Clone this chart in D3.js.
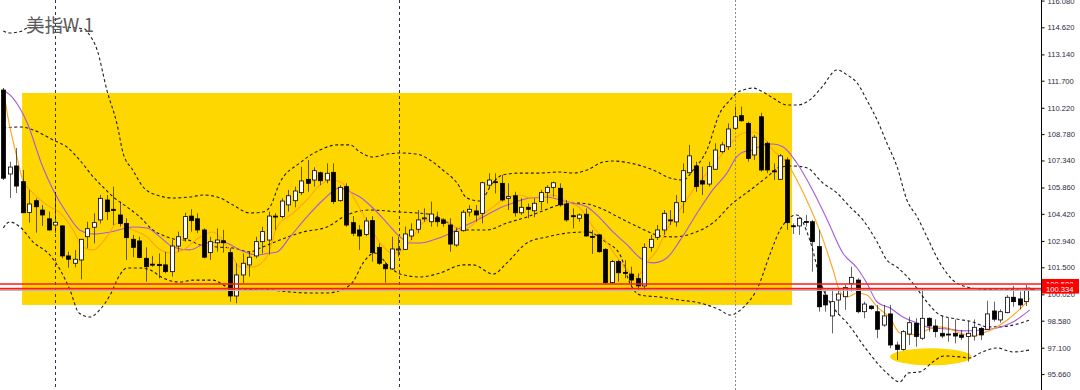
<!DOCTYPE html>
<html>
<head>
<meta charset="utf-8">
<script src="https://cdn.jsdelivr.net/npm/d3@7"></script>
<style>
  body { margin: 0; background: #fff; }
  svg { display: block; }
</style>
</head>
<body>
<div id="chart"></div>
<script>
// weekly candles [open, high, low, close]
const candles = [
  [111.19,111.30,106.27,106.37],[106.60,107.27,105.29,106.98],[107.04,108.02,105.56,105.94],[106.18,106.82,104.47,104.48],
  [104.50,105.73,103.94,104.96],[105.14,105.27,103.39,104.81],[104.63,104.90,103.76,104.36],[104.15,104.54,103.50,103.54],
  [103.81,105.62,103.37,103.96],[103.76,103.81,101.99,102.12],[102.12,102.35,101.48,101.94],[101.72,102.44,101.50,101.94],
  [101.90,103.05,100.84,103.03],[103.17,103.99,102.54,103.61],[103.69,104.45,102.81,103.94],[104.09,105.45,103.90,105.27],
  [105.18,105.45,104.09,104.54],[104.67,105.91,103.81,104.60],[104.36,105.09,103.72,103.90],[103.90,104.18,101.90,103.12],
  [103.03,103.27,102.05,102.59],[102.94,103.17,101.99,102.03],[101.99,102.59,100.71,101.53],[101.67,102.12,101.53,101.65],
  [101.66,102.26,100.90,101.59],[101.63,102.35,101.17,101.26],[101.26,102.99,100.99,102.66],[102.66,103.45,102.35,103.17],
  [103.08,104.48,102.90,104.27],[104.30,104.67,103.45,104.05],[104.15,104.45,103.36,103.54],[103.54,103.63,101.99,102.05],
  [102.30,103.17,101.90,102.90],[102.84,103.63,102.35,102.99],[102.95,103.54,102.30,102.84],[102.30,102.54,99.62,99.93],
  [99.93,101.72,99.53,101.08],[101.08,102.26,100.63,101.72],[101.63,102.35,100.99,102.05],[102.12,103.17,101.99,102.90],
  [102.90,103.72,102.26,103.45],[102.99,104.54,102.20,104.30],[104.30,104.45,103.54,104.27],[104.27,105.27,104.18,105.12],
  [104.91,105.73,104.54,105.41],[105.14,105.91,104.78,105.67],[105.58,107.00,105.45,106.22],[106.31,107.37,105.63,106.09],
  [106.27,106.97,105.91,106.78],[106.67,106.73,105.98,106.23],[106.27,107.18,106.09,106.64],[106.69,107.18,104.96,105.09],
  [105.14,105.99,105.09,105.87],[105.91,106.09,103.72,103.81],[103.94,104.30,103.20,103.36],[103.54,103.81,102.45,103.21],
  [103.30,104.23,103.20,104.03],[104.05,104.30,101.81,102.30],[102.59,102.81,101.63,101.72],[101.64,101.81,100.66,101.42],
  [101.41,103.17,101.35,102.50],[102.47,103.17,102.08,102.50],[102.48,103.72,102.45,103.32],[103.21,103.90,102.99,103.54],
  [103.58,104.63,103.36,104.09],[104.18,104.72,103.99,104.20],[103.99,105.09,103.72,104.41],[104.21,104.54,103.72,103.99],
  [104.09,104.18,103.72,103.90],[103.81,104.18,102.35,102.77],[102.72,103.63,102.62,103.45],[103.50,104.63,103.45,104.51],
  [104.52,104.90,104.27,104.67],[104.58,104.90,103.99,104.36],[104.45,106.18,103.90,106.12],[105.99,106.64,105.82,106.27],
  [106.18,106.64,105.54,106.15],[106.09,106.55,105.09,105.18],[105.27,106.09,104.63,105.36],[105.41,105.63,104.27,104.48],
  [104.48,105.27,104.36,104.78],[104.78,104.99,104.18,104.67],[104.59,105.27,104.23,105.00],[105.09,105.73,104.63,105.58],
  [105.58,105.99,104.99,105.87],[105.87,106.18,105.36,106.12],[105.82,106.09,104.81,104.91],[104.96,105.18,103.99,104.09],
  [104.32,104.72,103.63,104.28],[104.18,104.45,103.99,104.36],[104.40,104.72,103.17,103.21],[103.19,103.54,102.23,103.14],
  [103.27,103.32,102.30,102.35],[102.48,102.54,100.59,100.66],[100.66,101.90,100.59,101.81],[101.81,101.90,100.71,101.20],
  [101.22,101.90,100.90,101.18],[101.13,101.53,100.44,100.80],[100.88,101.17,100.26,100.48],[100.48,102.81,100.22,102.59],
  [102.59,103.27,102.35,103.03],[103.14,103.81,102.99,103.54],[103.54,104.63,103.27,104.45],[104.09,104.63,103.81,104.05],
  [103.98,105.45,103.72,105.03],[105.09,107.18,104.45,106.78],[106.67,108.19,106.64,107.59],[107.04,107.27,105.63,105.91],
  [106.23,107.00,105.45,106.05],[106.05,107.27,105.91,107.00],[106.86,108.28,106.82,107.91],[107.82,108.36,107.73,108.19],
  [108.09,109.37,107.91,109.06],[109.10,110.28,109.01,109.73],[109.79,110.28,109.46,109.51],[109.37,109.46,107.27,107.45],
  [107.64,108.73,107.37,108.61],[109.73,109.95,106.73,106.82],[108.28,108.37,106.64,106.82],[106.77,107.18,106.27,106.74],
  [106.31,107.69,106.27,107.59],[107.37,107.51,103.54,103.94],[103.77,103.90,103.32,103.74],[103.76,104.27,103.27,104.18],
  [104.00,104.36,103.72,103.99],[103.99,104.09,101.26,102.90],[102.63,103.54,99.07,99.34],[99.98,100.26,99.07,99.44],
  [98.84,100.35,97.89,99.62],[99.71,100.35,98.89,100.04],[99.89,100.53,99.17,100.40],[100.62,101.53,100.17,100.95],
  [100.80,100.90,98.98,99.07],[99.07,99.62,98.71,99.49],[99.38,99.42,99.17,99.24],[99.07,99.44,97.62,98.11],
  [98.34,99.44,98.25,98.84],[98.95,99.44,97.07,97.25],[97.25,97.43,96.43,97.01],[97.01,98.07,96.94,97.98],
  [97.85,98.80,97.25,98.47],[98.44,98.71,97.16,97.71],[97.62,100.35,97.52,98.71],[98.71,98.77,97.98,98.29],
  [98.29,98.65,97.67,97.98],[97.89,98.84,97.62,97.74],[97.85,98.71,97.43,97.82],[97.89,98.65,97.34,97.74],
  [97.80,98.07,97.52,97.67],[97.71,98.58,96.34,97.89],[97.74,98.65,97.49,98.22],[98.16,98.25,97.52,97.80],
  [98.11,99.67,98.07,98.95],[99.11,99.62,98.53,98.66],[98.62,99.20,98.47,99.07],[99.02,99.98,98.98,99.86],
  [99.86,100.48,99.34,99.62],[99.77,100.17,99.20,99.44],[99.62,100.53,99.38,100.26],[100.30,100.36,100.28,100.33]
];

// indicator readings [bar index, price]
const bbUpper = [
  [0,114.42],[1,114.31],[2.9,114.42],[3.7,114.58],[8,114.64],[12.6,114.53],[13.1,114.31],[14.5,113.38],[16,111.19],
  [17.6,109.28],[18.5,107.75],[20,106.82],[21.6,105.89],[23.7,105.45],[26.2,105.29],[28.8,105.34],[30.9,105.45],
  [33.5,105.29],[35.5,104.90],[38.1,104.47],[40.1,104.52],[41.2,104.80],[42.7,106.11],[45.8,107.20],[48.9,107.91],
  [51.6,108.19],[53.6,108.19],[55.1,107.80],[57.1,107.53],[59.3,107.69],[61.3,107.75],[63.9,107.69],[65.9,107.37],
  [67.9,106.82],[70.1,106.11],[71.6,105.29],[73.6,105.12],[75.7,106.16],[77.2,106.55],[79.8,106.65],[82.9,106.65],
  [86,106.71],[88,106.65],[90.2,106.82],[92.7,107.26],[94.2,107.31],[96.8,107.20],[100.4,106.82],[103,106.38],
  [105,106.27],[106.6,106.82],[108.7,107.91],[110.7,109.93],[112.3,110.65],[113.3,111.03],[114.3,111.19],[115.8,111.30],
  [117.4,111.08],[118.9,110.76],[121.1,110.37],[122.6,110.37],[124.6,110.65],[126.5,111.36],[128.8,112.29],[130.4,112.01],
  [131.9,111.58],[133.4,110.65],[135,109.55],[136.5,108.30],[138.1,106.98],[139.6,105.18],[141.2,104.25],[142.7,103.16],
  [144.7,101.74],[146.7,100.80],[148.9,100.42],[150.9,100.31],[154,100.26],[158.6,100.37]
];
const bbMiddle = [
  [0,109.11],[2.6,109.17],[4.6,109.01],[7.7,108.46],[9.8,108.08],[11.8,107.36],[13.9,106.44],[15.4,105.89],[17,105.34],
  [19.1,104.80],[21.1,104.25],[23.1,103.54],[25.3,103.16],[27.3,102.99],[28.4,102.99],[30.4,102.72],[33,102.61],
  [35.5,102.55],[38.1,102.34],[39.7,102.55],[42.7,102.99],[46.3,103.43],[50,103.70],[53.1,104.36],[56.7,104.63],
  [61.3,104.52],[63.9,104.47],[66.4,104.36],[68.5,103.98],[71,103.54],[74.7,103.54],[77.8,103.92],[80.9,104.25],
  [82.9,104.52],[86,104.91],[89.1,105.01],[92.2,104.74],[95.3,104.19],[98.4,103.65],[101.5,103.21],[103.5,103.16],
  [106.6,103.37],[109.6,103.92],[112.7,105.01],[115.4,105.72],[118,106.44],[120,106.98],[122,107.04],[124.2,106.93],
  [126.6,106.11],[128.8,105.56],[130.8,104.80],[132.8,104.09],[135,102.88],[136.5,101.90],[138.1,101.50],[140.5,100.64],
  [142.7,99.60],[144.7,98.89],[147.3,98.67],[149.8,98.51],[152,98.24],[154,98.24],[156,98.34],[158.6,98.62]
];
const bbLower = [
  [0,103.65],[1,103.98],[2.6,103.70],[4.6,102.88],[7.2,102.17],[8.8,101.35],[10.3,100.26],[11.7,99.00],[13.4,98.78],
  [14.9,99.17],[16.5,99.98],[18,101.08],[19.1,101.46],[21.1,101.46],[22.7,101.35],[24.7,100.91],[27.3,100.69],
  [29.3,100.80],[32.4,100.80],[34.6,100.42],[36.6,100.26],[39.7,100.31],[44.3,100.15],[47.4,100.09],[50,100.09],
  [52.5,100.31],[54,100.69],[55.6,101.74],[57.4,102.28],[59.7,101.52],[61.3,101.13],[64.4,100.97],[67.5,101.19],
  [71,101.63],[72.6,101.63],[75.7,101.13],[77.8,101.74],[80.9,102.83],[84,103.16],[87.1,103.37],[90.2,103.43],
  [93,102.90],[95.3,102.17],[96.8,100.64],[98.4,99.98],[101.5,99.87],[104.5,99.71],[107.6,99.55],[110.7,99.17],
  [112.3,98.89],[114.4,99.33],[116.6,100.42],[118.4,102.17],[120,103.54],[122.6,104.36],[124.6,102.99],[126.6,100.37],
  [128.5,99.17],[130.4,98.45],[133.4,96.98],[136.5,95.72],[138.5,95.23],[139.8,95.72],[141.6,95.78],[143.6,96.32],
  [145.3,96.65],[147.8,96.60],[149.3,96.54],[150.9,96.81],[153.5,97.09],[156,96.87],[158.6,96.98]
];
const maSlow = [
  [0,111.19],[1.5,110.75],[3.7,109.39],[6.1,106.98],[7.7,105.73],[9.8,104.47],[11.8,103.54],[13.9,103.32],[16.5,103.43],
  [20.1,103.70],[22.2,103.65],[24.2,103.16],[26.2,102.61],[28.8,102.45],[31.5,102.83],[33.9,102.88],[36.6,102.45],
  [39.2,102.17],[41.2,102.28],[42.3,102.34],[44.3,103.16],[46.9,104.25],[49.4,105.18],[52,105.84],[53.6,105.62],
  [55.1,105.34],[57.1,104.74],[59.3,103.92],[61.3,103.16],[62.8,102.83],[64.4,102.83],[66.4,102.99],[68.5,103.27],
  [70.6,103.65],[72.6,103.98],[74.7,104.36],[76.7,104.74],[78.7,105.01],[81.4,105.29],[84,105.34],[86,105.18],
  [88,105.01],[90.2,104.80],[92.2,104.19],[94.2,103.43],[96.4,102.72],[98.4,102.01],[100.4,101.74],[102.5,102.01],
  [104.5,102.94],[107.2,104.47],[109.6,105.73],[111.8,106.65],[113.3,107.53],[114.3,107.80],[115.8,107.91],[117.4,108.19],
  [118.9,108.24],[120.5,108.08],[122.6,107.20],[125.1,105.67],[127.3,104.09],[129.7,102.28],[131.9,101.46],[133.4,100.64],
  [135,99.60],[137,99.27],[139,98.78],[141.2,98.45],[143.3,98.18],[145.8,98.13],[148.3,98.02],[150.9,98.07],
  [153.5,98.18],[156,98.51],[158.6,99.17]
];
const maFast = [
  [0,111.30],[0.6,109.94],[2.1,107.53],[3,106.27],[4.6,105.56],[7.2,104.80],[8.8,104.47],[10.8,103.54],[12.3,102.61],
  [13.9,102.45],[16,103.16],[17.6,103.92],[20,103.54],[22.2,103.16],[23.7,102.61],[25.8,102.28],[27.8,102.45],
  [30.4,103.16],[32.4,103.43],[34.6,102.61],[36.6,101.52],[38.6,101.52],[40.7,102.06],[42.3,103.70],[44.8,104.47],
  [46.9,105.18],[48.9,105.99],[50.9,106.27],[53.1,105.89],[54.6,105.01],[56.7,103.70],[58.2,102.83],[60.2,102.28],
  [61.8,102.45],[63.3,103.16],[64.8,103.92],[67,104.19],[69,103.92],[70.6,103.54],[72.1,103.70],[73.6,104.25],
  [75.7,104.80],[77.8,105.34],[79.8,105.45],[81.4,105.29],[82.9,105.29],[84.9,105.45],[87.1,105.07],[89.1,104.74],
  [91.1,103.70],[93.3,102.83],[94.8,102.06],[96.4,101.35],[97.9,100.97],[99.4,101.74],[101,102.45],[102.5,103.54],
  [104.5,104.63],[106.6,105.73],[108.7,106.65],[110.7,107.53],[112.7,108.40],[114.3,108.84],[115.8,108.90],[117.4,108.62],
  [118.9,107.91],[121.1,107.20],[122.6,106.27],[124.6,104.80],[126.5,103.16],[128.2,101.35],[129.3,100.15],[130.4,99.88],
  [131.9,100.09],[133.4,99.98],[135,99.33],[137,98.73],[138.5,97.91],[139.6,97.85],[141.2,97.80],[142.7,98.07],
  [144.3,98.24],[145.8,98.18],[147.8,97.91],[149.8,97.74],[151.4,97.91],[153.5,98.24],[155.1,98.62],[157.1,99.22],
  [158.6,99.82]
];

const priceTicks = [116.080,114.620,113.140,111.700,110.220,108.780,107.340,105.860,104.420,102.940,101.500,100.020,98.580,97.100,95.660];
const levelLines = [100.588, 100.334];
const bidLevel = 100.24;
const separators = [7.95, 61.1];
const grayMarker = 113.0;
const zoneBars = [2.9, 121.85];
const zonePrices = [99.44, 111.03];
const bottomBars = [137.0, 149.6];
const bottomPrices = [96.14, 97.07];
const title = "美指W.1";

const width = 1080, height = 390;
const axisX = 1041;

const svg = d3.select("#chart").append("svg")
  .attr("width", width)
  .attr("height", height);

const x = d3.scaleLinear().domain([0, 158]).range([3.3, 1026]);
const y = d3.scaleLinear().domain([94.79, 116.113]).range([height, 0]);

svg.append("clipPath").attr("id", "plot")
  .append("rect").attr("x", 0).attr("y", 0).attr("width", axisX).attr("height", height);

const plot = svg.append("g").attr("clip-path", "url(#plot)");

// yellow box
plot.append("rect")
  .attr("x", x(zoneBars[0]))
  .attr("y", y(zonePrices[1]))
  .attr("width", x(zoneBars[1]) - x(zoneBars[0]))
  .attr("height", y(zonePrices[0]) - y(zonePrices[1]))
  .attr("fill", "#FFD700");

// yellow ellipse at the bottom
plot.append("ellipse")
  .attr("cx", (x(bottomBars[0]) + x(bottomBars[1])) / 2)
  .attr("cy", (y(bottomPrices[0]) + y(bottomPrices[1])) / 2)
  .attr("rx", (x(bottomBars[1]) - x(bottomBars[0])) / 2)
  .attr("ry", (y(bottomPrices[0]) - y(bottomPrices[1])) / 2)
  .attr("fill", "#FFD700");

// period separators
plot.selectAll("line.sep")
  .data(separators)
  .join("line")
  .attr("class", "sep")
  .attr("x1", d => Math.round(x(d)) + 0.5)
  .attr("x2", d => Math.round(x(d)) + 0.5)
  .attr("y1", 0).attr("y2", height)
  .attr("stroke", "#2e3558")
  .attr("stroke-width", 1)
  .attr("stroke-dasharray", "3,3");

plot.append("line")
  .attr("x1", Math.round(x(grayMarker)) + 0.5)
  .attr("x2", Math.round(x(grayMarker)) + 0.5)
  .attr("y1", 0).attr("y2", height)
  .attr("stroke", "#8c8c8c")
  .attr("stroke-dasharray", "2,2");

// bands and averages
const line = d3.line()
  .x(d => x(d[0]))
  .y(d => y(d[1]))
  .curve(d3.curveMonotoneX);

[bbUpper, bbMiddle, bbLower].forEach(band => {
  plot.append("path")
    .attr("d", line(band))
    .attr("fill", "none")
    .attr("stroke", "#1e1e1e")
    .attr("stroke-width", 1.1)
    .attr("stroke-dasharray", "3,2.5");
});

plot.append("path")
  .attr("d", line(maSlow))
  .attr("fill", "none")
  .attr("stroke", "#A35BE0")
  .attr("stroke-width", 1.1);

plot.append("path")
  .attr("d", line(maFast))
  .attr("fill", "none")
  .attr("stroke", "#FFA41B")
  .attr("stroke-width", 1.1);

// candles
const bodyW = 4;
const bars = plot.append("g")
  .selectAll("g")
  .data(candles)
  .join("g");

bars.append("line")
  .attr("x1", (d, i) => Math.round(x(i)) + 0.5)
  .attr("x2", (d, i) => Math.round(x(i)) + 0.5)
  .attr("y1", d => y(d[1]))
  .attr("y2", d => y(d[2]))
  .attr("stroke", "#000")
  .attr("stroke-opacity", 0.6)
  .attr("stroke-width", 1);

bars.append("rect")
  .attr("x", (d, i) => Math.round(x(i)) + 0.5 - bodyW / 2)
  .attr("y", d => y(Math.max(d[0], d[3])))
  .attr("width", bodyW)
  .attr("height", d => Math.max(1, Math.abs(y(d[0]) - y(d[3]))))
  .attr("fill", d => d[3] >= d[0] ? "#fff" : "#000")
  .attr("stroke", "#000")
  .attr("stroke-width", 0.8);

// horizontal levels
plot.append("line")
  .attr("x1", 0).attr("x2", axisX)
  .attr("y1", y(bidLevel)).attr("y2", y(bidLevel))
  .attr("stroke", "#b8b8b8")
  .attr("stroke-width", 1.5);

plot.selectAll("line.level")
  .data(levelLines)
  .join("line")
  .attr("class", "level")
  .attr("x1", 0).attr("x2", axisX)
  .attr("y1", d => y(d)).attr("y2", d => y(d))
  .attr("stroke", "#FF1A1A")
  .attr("stroke-width", 1.6);

// price axis
const axis = svg.append("g")
  .attr("transform", `translate(${axisX + 0.5},0)`)
  .call(d3.axisRight(y)
    .tickValues(priceTicks)
    .tickFormat(d3.format(".3f"))
    .tickSize(3)
    .tickPadding(3));

axis.select(".domain").attr("stroke", "#000").attr("d", `M0,0V${height}`);
axis.selectAll(".tick line").attr("stroke", "#000");
axis.selectAll(".tick text")
  .attr("fill", "#2a2a3a")
  .style("font-family", "'Liberation Sans', Arial, sans-serif")
  .style("font-size", "7.6px");

// red price labels (the lower one sits over the upper one)
const tags = svg.append("g")
  .selectAll("g")
  .data(levelLines)
  .join("g")
  .attr("transform", d => `translate(${axisX + 1},${y(d)})`);

tags.append("rect")
  .attr("x", 0).attr("y", -5)
  .attr("width", 37).attr("height", 10)
  .attr("fill", "#FF0000");

tags.append("text")
  .attr("x", 4).attr("y", 3)
  .attr("fill", "#fff")
  .style("font-family", "'Liberation Sans', Arial, sans-serif")
  .style("font-size", "7.6px")
  .text(d => d.toFixed(3));

// title
svg.append("text")
  .attr("x", 26).attr("y", 32)
  .attr("fill", "#5a5a5a")
  .style("font-family", "'Noto Sans CJK SC', sans-serif")
  .style("font-size", "18.5px")
  .text(title);
</script>
</body>
</html>
